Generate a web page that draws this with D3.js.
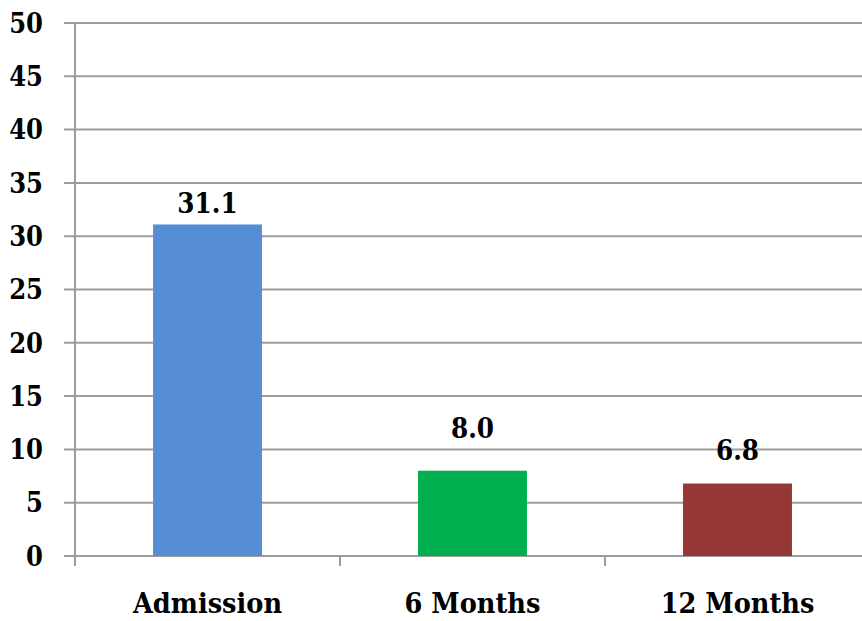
<!DOCTYPE html>
<html>
<head>
<meta charset="utf-8">
<script src="https://cdn.jsdelivr.net/npm/d3@7"></script>
<style>
  html, body { margin: 0; padding: 0; background: #fff; }
  svg text { font-family: "DejaVu Serif Condensed", "DejaVu Serif", serif; font-weight: bold; fill: #000; }
</style>
</head>
<body>
<svg id="chart" width="862" height="621"></svg>
<script>
const categories = ["Admission", "6 Months", "12 Months"];
const values = [31.1, 8.0, 6.8];
const valueLabels = ["31.1", "8.0", "6.8"];
const yTicks = [0, 5, 10, 15, 20, 25, 30, 35, 40, 45, 50];
const colors = ["#558ED5", "#00B050", "#953735"];
const labelGaps = [11, 33, 24];

const svg = d3.select("#chart");
const mLeft = 75, mRight = 870, mTop = 23, mBottom = 556;

const x = d3.scaleBand().domain(categories).range([mLeft, mRight]).padding(0);
const y = d3.scaleLinear().domain([0, 50]).range([mBottom, mTop]);

const gridColor = "#9c9c9c";

// gridlines
svg.append("g").selectAll("line").data(yTicks).join("line")
  .attr("x1", mLeft - 11).attr("x2", 862)
  .attr("y1", d => y(d)).attr("y2", d => y(d))
  .attr("stroke", gridColor).attr("stroke-width", 2);

// y axis line
svg.append("line")
  .attr("x1", mLeft).attr("x2", mLeft)
  .attr("y1", y(50)).attr("y2", mBottom + 10)
  .attr("stroke", gridColor).attr("stroke-width", 2);

// bottom category ticks
const boundaries = categories.map(c => x(c)).concat([x(categories[categories.length - 1]) + x.step()]);
svg.append("g").selectAll("line").data(boundaries).join("line")
  .attr("x1", d => d).attr("x2", d => d)
  .attr("y1", mBottom).attr("y2", mBottom + 10)
  .attr("stroke", gridColor).attr("stroke-width", 2);

// y tick labels
svg.append("g").selectAll("text").data(yTicks).join("text")
  .attr("x", 43).attr("y", d => y(d))
  .attr("dy", "0.36em")
  .attr("text-anchor", "end")
  .attr("font-size", 27)
  .text(d => d);

// bars
const barW = x.step() * 0.411;
svg.append("g").selectAll("rect").data(values).join("rect")
  .attr("x", (d, i) => x(categories[i]) + (x.step() - barW) / 2)
  .attr("width", barW)
  .attr("y", d => y(d))
  .attr("height", d => mBottom - y(d))
  .attr("fill", (d, i) => colors[i]);

// value labels
svg.append("g").selectAll("text").data(values).join("text")
  .attr("x", (d, i) => x(categories[i]) + x.step() / 2)
  .attr("y", (d, i) => y(d) - labelGaps[i])
  .attr("text-anchor", "middle")
  .attr("font-size", 27.5)
  .text((d, i) => valueLabels[i]);

// category labels
svg.append("g").selectAll("text").data(categories).join("text")
  .attr("x", d => x(d) + x.step() / 2)
  .attr("y", 613)
  .attr("text-anchor", "middle")
  .attr("font-size", 28.5)
  .text(d => d);
</script>
</body>
</html>
